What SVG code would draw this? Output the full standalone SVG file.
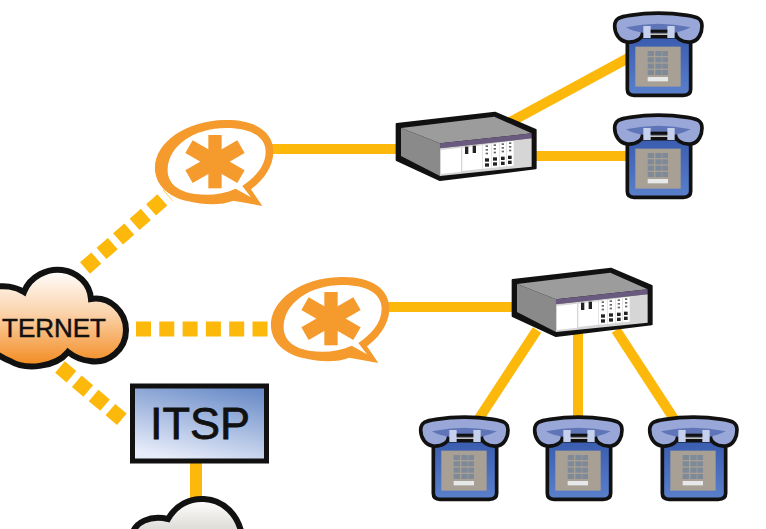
<svg xmlns="http://www.w3.org/2000/svg" xmlns:xlink="http://www.w3.org/1999/xlink" width="766" height="529" viewBox="0 0 766 529">
<style>
.s{fill:none;stroke:#fdb90b;stroke-width:10}
.d{fill:none;stroke:#fdb90b;stroke-width:15}
.o{fill:#f59a2c}
.t{font-family:"Liberation Sans",Arial,sans-serif;fill:#111;stroke:#111}
.k{fill:#7f8a99}
</style>
<defs>
<linearGradient id="co" x1="0" y1="0" x2="0" y2="1"><stop offset="0" stop-color="#fff"/><stop offset=".45" stop-color="#fbd3ab"/><stop offset="1" stop-color="#f28a1e"/></linearGradient>
<linearGradient id="cg" x1="0" y1="0" x2="0" y2="1"><stop offset="0" stop-color="#fff"/><stop offset="1" stop-color="#d8d6d0"/></linearGradient>
<linearGradient id="bl" x1=".75" y1="0" x2=".35" y2="1"><stop offset="0" stop-color="#6a8cc8"/><stop offset="1" stop-color="#e8edfa"/></linearGradient>
<linearGradient id="pb" x1="0" y1="0" x2="0" y2="1"><stop offset="0" stop-color="#3a5cae"/><stop offset="1" stop-color="#5a80cc"/></linearGradient>
<g id="phone">
<path d="M82,110 H272 V268 Q272,286 250,286 H102 Q82,286 82,268 Z" fill="url(#pb)" stroke="#111" stroke-width="11"/>
<path d="M44,78 C44,54 62,50 90,46 C140,38 210,38 262,46 C290,50 306,55 306,78 C306,95 298,123 272,126 C245,128 226,115 226,95 H128 C128,115 110,128 82,126 C57,123 44,100 44,78 Z" fill="#98a7d8" stroke="#111" stroke-width="11"/>
<path d="M78,82 Q175,60 272,82 Q245,95 226,98 H128 Q100,95 78,82 Z" fill="#5f75b8"/>
<rect x="130" y="78" width="22" height="36" fill="#c5d0ec"/>
<rect x="202" y="78" width="22" height="36" fill="#c5d0ec"/>
<rect x="152" y="89" width="50" height="9" fill="#111"/>
<rect x="106" y="140" width="136" height="120" fill="#a9a095"/>
<g class="k">
<rect x="143" y="153" width="19" height="15"/><rect x="166" y="153" width="19" height="15"/><rect x="187" y="153" width="17" height="15"/>
<rect x="143" y="172" width="19" height="15"/><rect x="166" y="172" width="19" height="15"/><rect x="187" y="172" width="17" height="15"/>
<rect x="143" y="191" width="19" height="15"/><rect x="166" y="191" width="19" height="15"/><rect x="187" y="191" width="17" height="15"/>
<rect x="143" y="210" width="19" height="15"/><rect x="166" y="210" width="19" height="15"/><rect x="187" y="210" width="17" height="15"/>
</g>
<rect x="143" y="231" width="61" height="13" fill="#e6e8ea"/>
</g>
<g id="switch">
<path d="M35,72 L330,38 L452,90 V205 L165,240 L35,180 Z" fill="#111" stroke="#111" stroke-width="6" stroke-linejoin="round"/>
<path d="M48,84 L328,50 L440,100 L165,130 Z" fill="#9c9c9c"/>
<path d="M48,84 L165,130 V228 L48,168 Z" fill="#8a8a8a"/>
<path d="M165,130 L440,100 V115 L165,145 Z" fill="#6b5a80"/>
<path d="M165,145 L440,115 V200 L165,228 Z" fill="#d6d6d6"/>
<path d="M168,150 L228,143 V215 L168,222 Z" fill="#fff"/>
<path d="M232,143 L292,136 V206 L232,213 Z" fill="#fff"/>
<path d="M294,135 L318,132 V204 L294,206 Z M320,131 L342,129 V201 L320,204 Z M344,128 L364,126 V199 L344,201 Z M366,125 L386,123 V197 L366,199 Z" fill="#fff"/>
<g fill="#222">
<rect x="240" y="140" width="10" height="22"/><rect x="263" y="137" width="10" height="22"/>
<rect x="300" y="175" width="12" height="10"/><rect x="300" y="190" width="12" height="10"/>
<rect x="324" y="172" width="12" height="10"/><rect x="324" y="187" width="12" height="10"/>
<rect x="348" y="170" width="11" height="10"/><rect x="348" y="185" width="11" height="10"/>
<rect x="369" y="167" width="11" height="10"/><rect x="369" y="182" width="11" height="10"/>
</g>
<g fill="#666">
<rect x="302" y="136" width="7" height="5"/><rect x="302" y="147" width="7" height="5"/><rect x="302" y="158" width="7" height="5"/>
<rect x="326" y="133" width="7" height="5"/><rect x="326" y="144" width="7" height="5"/><rect x="326" y="155" width="7" height="5"/>
<rect x="350" y="130" width="7" height="5"/><rect x="350" y="141" width="7" height="5"/><rect x="350" y="152" width="7" height="5"/>
<rect x="372" y="127" width="7" height="5"/><rect x="372" y="138" width="7" height="5"/><rect x="372" y="149" width="7" height="5"/>
</g>
</g>
<g id="star">
<path fill-rule="evenodd" class="o" d="M30,210 C25,130 120,62 240,60 C330,58 388,95 385,160 C383,205 350,245 318,268 L352,318 L265,302 C230,316 180,316 130,304 C70,292 33,255 30,210 Z M68,205 C65,250 100,276 150,282 C195,288 235,282 272,266 L318,292 L292,258 C330,232 362,198 362,155 C362,110 318,84 245,84 C145,84 72,138 68,205 Z"/>
<g class="o">
<rect x="190" y="105" width="40" height="160"/>
<rect x="188" y="95" width="44" height="180" transform="rotate(60 210 185)"/>
<rect x="188" y="95" width="44" height="180" transform="rotate(120 210 185)"/>
</g>
</g>
</defs>
<rect width="766" height="529" fill="#fff"/>
<g id="connectors">
<path class="s" d="M270,149 H400"/>
<path class="s" d="M510,122 L632,56"/>
<path class="s" d="M530,156 H630"/>
<path class="s" d="M385,307 H520"/>
<path class="s" d="M537,330 L478,420"/>
<path class="s" d="M578,330 V422"/>
<path class="s" d="M616,330 L676,422"/>
<path class="s" d="M196,460 V500" style="stroke-width:12"/>
<path class="d" d="M85,268 L168,195" stroke-dasharray="15 7"/>
<path class="d" d="M136,329 H270" stroke-dasharray="15 8.300"/>
<path class="d" d="M60,367 L125,422" stroke-dasharray="15 7"/>
</g>
<g id="phone1" transform="translate(600,0) scale(.3333)"><use xlink:href="#phone" href="#phone"/></g>
<g id="phone2" transform="translate(600,102) scale(.3333)"><use xlink:href="#phone" href="#phone"/></g>
<g id="phone3" transform="translate(406,404) scale(.3333)"><use xlink:href="#phone" href="#phone"/></g>
<g id="phone4" transform="translate(520,404) scale(.3333)"><use xlink:href="#phone" href="#phone"/></g>
<g id="phone5" transform="translate(635,404) scale(.3333)"><use xlink:href="#phone" href="#phone"/></g>
<g id="switch1" transform="translate(385,100) scale(.3333)"><use xlink:href="#switch" href="#switch"/></g>
<g id="switch2" transform="translate(501,256) scale(.3333)"><use xlink:href="#switch" href="#switch"/></g>
<g id="asterisk1" transform="translate(145,100) scale(.3333)"><use xlink:href="#star" href="#star"/></g>
<g id="asterisk2" transform="translate(261,257) scale(.3333)"><use xlink:href="#star" href="#star"/></g>
<g id="internet">
<path d="M-8,288 C3,284 16,287 24,292 C30,276 48,268 62,270 C78,272 90,284 91,299 C110,296 126,312 126,330 C126,350 108,364 90,361 C80,360 73,356 68,352 C55,368 25,370 10,361 C0,357 -6,352 -12,348 Z" fill="url(#co)" stroke="#111" stroke-width="6"/>
<text class="t" x="2" y="337" font-size="26" stroke-width=".5">TERNET</text>
</g>
<g id="itsp">
<rect x="132.500" y="386" width="134" height="75" fill="url(#bl)" stroke="#111" stroke-width="5"/>
<text class="t" x="150" y="439" font-size="45" stroke-width=".8">ITSP</text>
</g>
<g id="pstn">
<path d="M132,535 C135,522 150,515 168,519 C176,505 190,498 204,499 C224,500 238,515 242,535 Z" fill="url(#cg)" stroke="#111" stroke-width="6"/>
</g>
</svg>
